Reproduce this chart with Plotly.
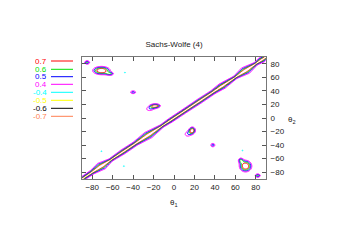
import numpy as np
import plotly.graph_objects as go

# ---- data ----
title = "Sachs-Wolfe (4)"
levels = [0.7, 0.6, 0.5, 0.4, -0.4, -0.5, -0.6, -0.7]
level_labels = ["0.7", "0.6", "0.5", "0.4", "-0.4", "-0.5", "-0.6", "-0.7"]
level_colors = ["#ff0000", "#00e000", "#0000ff", "#ff00ff",
                "#00ffff", "#ffff00", "#000000", "#ff7f50"]
tick_vals = [-80, -60, -40, -20, 0, 20, 40, 60, 80]

# diagonal ridge (theta1 = theta2): position along diagonal and its width
ridge_pos = [-90, -80, -71, -62, -50, -38, -25, -12, -3, 10, 25, 38, 47, 60, 70, 80, 86, 90]
ridge_width = [4.0, 4.5, 8.5, 3.5, 5.0, 4.5, 8.0, 3.5, 4.5, 4.5, 5.0, 4.5, 6.5, 3.5, 8.5, 3.5, 6.0, 4.0]

# off-diagonal features (each also appears mirrored across the diagonal)
blob_t1 = [-71, -62, -85, -40, -18, -24, -48, -71, -45, -3, -92, -92, -92, -92]
blob_t2 = [70, 65, 82, 38, 18, 13, 67, -49, 92, 92, 0, -12, -44, -60]
blob_amp = [0.85, 0.42, 0.63, 0.56, 0.76, 0.45, -0.45, -0.45, 0.43, 0.43, -0.43, 0.43, -0.43, 0.43]
blob_s1 = [7, 3, 2.5, 3, 4, 5, 1.5, 1.5, 2, 2, 1.5, 1.5, 1.5, 1.5]
blob_s2 = [5, 2, 2.5, 2.5, 2.5, 4, 1.5, 1.5, 1.5, 1.5, 2, 2, 2, 2]

# ---- build the field on a grid ----
g = np.linspace(-90, 90, 181)
X, Y = np.meshgrid(g, g)
S = (X + Y) / 2.0
D = Y - X
W = np.interp(S, ridge_pos, ridge_width)
Z = np.exp(-np.abs(D) / W)
for t1, t2, a, s1, s2 in zip(blob_t1, blob_t2, blob_amp, blob_s1, blob_s2):
    Z += a * np.exp(-0.5 * (((X - t1) / s1) ** 2 + ((Y - t2) / s2) ** 2))
    Z += a * np.exp(-0.5 * (((X - t2) / s2) ** 2 + ((Y - t1) / s1) ** 2))

fig = go.Figure()
for lv, col in zip(levels, level_colors):
    fig.add_trace(go.Contour(
        x=g, y=g, z=Z, autocontour=False,
        contours=dict(start=lv, end=lv, size=1, coloring="none"),
        line=dict(color=col, width=1), showscale=False, showlegend=False,
        hoverinfo="skip"))

FONT = "Liberation Sans, Arial, sans-serif"
OFF = 8  # page body margin of the browser
W_PX, H_PX = 349 - 2 * OFF, 245 - 2 * OFF
L, T = 82 - OFF, 57 - OFF
pw, ph = 184, 122
R, B = W_PX - L - pw, H_PX - T - ph


def px_x(px):
    return (px - OFF - L) / pw


def px_y(py):
    return (T + ph - (py - OFF)) / ph


axis_common = dict(range=[-90, 90], tickvals=tick_vals, ticks="inside", ticklen=4,
                   tickcolor="#555", showline=True, linecolor="#777", linewidth=1,
                   mirror="allticks", showgrid=False, zeroline=False, automargin=False,
                   tickfont=dict(family=FONT, size=8, color="#222"))
fig.update_layout(
    width=W_PX, height=H_PX,
    margin=dict(l=L, r=R, t=T, b=B),
    paper_bgcolor="white", plot_bgcolor="white",
    title=dict(text=title, x=0.5, xref="paper", y=1 - (44 - OFF) / H_PX, yref="container",
               yanchor="middle", font=dict(family=FONT, size=8, color="#222")),
    xaxis=dict(**axis_common),
    yaxis=dict(**axis_common, side="right", ticklabelstandoff=2),
)

# axis labels
fig.add_annotation(text="θ<sub>1</sub>", xref="paper", yref="paper", x=0.5,
                   y=px_y(203), showarrow=False, xanchor="center", yanchor="middle",
                   font=dict(family=FONT, size=8, color="#222"))
fig.add_annotation(text="θ<sub>2</sub>", xref="paper", yref="paper", x=px_x(292),
                   y=px_y(120), showarrow=False, xanchor="center", yanchor="middle",
                   font=dict(family=FONT, size=8, color="#222"))

# legend (text on the left, sample line on the right)
row_y = [61, 69.3, 76.7, 84.3, 92.3, 100.3, 108.3, 116.3]
for lab, col, py in zip(level_labels, level_colors, row_y):
    yp = px_y(py)
    fig.add_annotation(text=lab, xref="paper", yref="paper", x=px_x(48), y=yp,
                       xanchor="right", yanchor="middle", showarrow=False,
                       height=7, borderpad=0,
                       font=dict(family=FONT, size=8, color=col))
    fig.add_shape(type="line", xref="paper", yref="paper",
                  x0=px_x(51), x1=px_x(73), y0=yp, y1=yp,
                  line=dict(color=col, width=1))

fig.write_html("out.html")
